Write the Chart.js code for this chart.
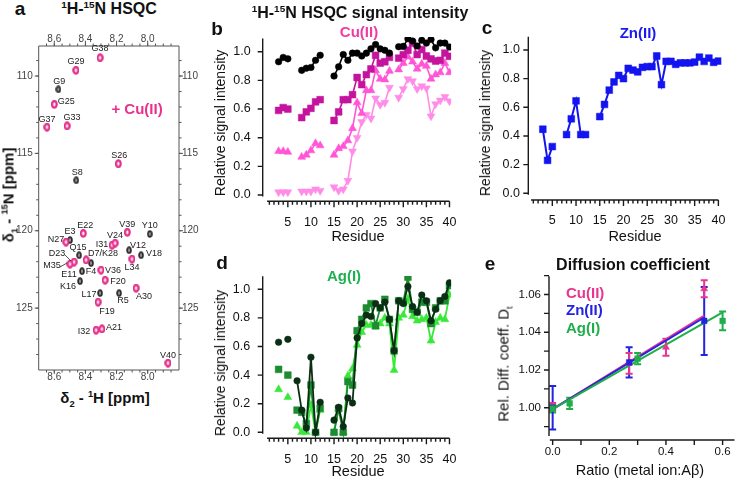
<!DOCTYPE html>
<html><head><meta charset="utf-8">
<script src="https://cdn.jsdelivr.net/npm/chart.js@4.4.1/dist/chart.umd.min.js"></script>
<style>
body{margin:0;background:#fff;}
#wrap{position:relative;width:739px;height:480px;overflow:hidden;background:#fff;font-family:"Liberation Sans",Arial,sans-serif;color:#111;}
canvas{position:absolute;}
.t{position:absolute;white-space:nowrap;line-height:1;transform:translate(-50%,-50%);}
.l{position:absolute;white-space:nowrap;line-height:1;transform:translateY(-50%);}
.v{position:absolute;white-space:nowrap;line-height:1;transform:translate(-50%,-50%) rotate(-90deg);}
.b{font-weight:bold;}
sup,sub{font-size:0.62em;line-height:0;}
</style></head>
<body><div id="wrap">
<canvas id="cA"></canvas><canvas id="cB"></canvas><canvas id="cC"></canvas><canvas id="cD"></canvas><canvas id="cE"></canvas>

<div class="t b" style="left:20px;top:8px;font-size:19px">a</div>
<div class="t b" style="left:109px;top:9px;font-size:16px"><sup>1</sup>H-<sup>15</sup>N HSQC</div>
<div class="t b" style="left:137px;top:108px;font-size:15px;color:#ea2f8e">+ Cu(II)</div>
<div class="v b" style="left:8px;top:195px;font-size:15px">δ<sub>1</sub> - <sup>15</sup>N [ppm]</div>
<div class="t b" style="left:105px;top:397px;font-size:15px">δ<sub>2</sub> - <sup>1</sup>H [ppm]</div>

<div class="t b" style="left:217px;top:28px;font-size:19px">b</div>
<div class="t b" style="left:360px;top:13px;font-size:16px"><sup>1</sup>H-<sup>15</sup>N HSQC signal intensity</div>
<div class="t b" style="left:359px;top:31px;font-size:15px;color:#f03ca2">Cu(II)</div>
<div class="v" style="left:220px;top:123px;font-size:14px">Relative signal intensity</div>
<div class="t" style="left:358px;top:236px;font-size:14.5px">Residue</div>

<div class="t b" style="left:487px;top:27px;font-size:19px">c</div>
<div class="t b" style="left:638px;top:32px;font-size:15px;color:#1a1af0">Zn(II)</div>
<div class="v" style="left:485px;top:123px;font-size:14px">Relative signal intensity</div>
<div class="t" style="left:635px;top:236px;font-size:14.5px">Residue</div>

<div class="t b" style="left:222px;top:262px;font-size:19px">d</div>
<div class="t b" style="left:344px;top:275px;font-size:15px;color:#1fb052">Ag(I)</div>
<div class="v" style="left:220px;top:363px;font-size:14px">Relative signal intensity</div>
<div class="t" style="left:358px;top:471px;font-size:14.5px">Residue</div>

<div class="t b" style="left:490px;top:263px;font-size:19px">e</div>
<div class="t b" style="left:633px;top:265px;font-size:16px">Diffusion coefficient</div>
<div class="l b" style="left:566px;top:292px;font-size:15px;color:#e8358f">Cu(II)</div>
<div class="l b" style="left:566px;top:309px;font-size:15px;color:#2323e0">Zn(II)</div>
<div class="l b" style="left:566px;top:327px;font-size:15px;color:#1fae4a">Ag(I)</div>
<div class="v" style="left:503px;top:364px;font-size:15px">Rel. Diff. coeff. D<sub>t</sub></div>
<div class="t" style="left:640px;top:470px;font-size:14.5px">Ratio (metal ion:Aβ)</div>
</div>
<script>
// ---------------- DATA ----------------
// Panel a: HSQC peaks (ppm)
const peakNames = ['G38','G29','G9','G25','G37','G33','S26','S8','E22','V39','Y10','E3','N27','Q15','D23','M35','D7/K28','F4','E11','K16','V36','F20','I31','V24','V12','V18','L34','L17','R5','A30','F19','I32','A21','V40'];
const apoH = [8.306,8.461,8.574,8.600,8.647,8.518,8.189,8.459,8.414,8.131,7.987,8.499,8.525,8.441,8.473,8.499,8.396,8.364,8.422,8.435,8.300,8.274,8.229,8.210,8.120,8.043,8.101,8.306,8.184,8.075,8.319,8.332,8.294,7.870];
const apoN = [108.82,109.63,110.86,111.83,113.30,113.23,115.67,116.74,120.17,120.10,120.21,120.60,120.73,121.58,122.02,122.15,121.89,122.09,122.61,123.26,122.54,123.19,120.93,120.80,121.26,121.58,121.83,124.03,124.03,123.71,124.61,126.42,126.35,128.55];
const cuNames = ['G38','G29','G25','G37','G33','S26','E22','V39','N27','D23','M35','D7/K28','V36','F20','I31','V24','L34','A30','F19','I32','A21','V40'];
const cuH = [8.306,8.461,8.600,8.647,8.518,8.189,8.414,8.131,8.525,8.473,8.499,8.396,8.300,8.274,8.229,8.210,8.101,8.075,8.319,8.332,8.294,7.870];
const cuN = [108.82,109.63,111.83,113.30,113.23,115.67,120.17,120.10,120.73,122.02,122.15,121.89,122.54,123.19,120.93,120.80,121.83,123.71,124.61,126.42,126.35,128.55];
const hsqcTicksH = [8.6,8.4,8.2,8.0];
const hsqcTicksN = [110,115,120,125];

// Panels b-d: residues and relative intensities
const residues = [3,4,5,6,7,8,9,10,11,12,13,14,15,16,17,18,19,20,21,22,23,24,25,26,27,28,29,30,31,32,33,34,35,36,37,38,39,40];
const cuSeries1 = [0.93,0.96,0.95,null,null,0.87,0.885,0.89,0.94,0.975,null,null,0.83,0.895,0.98,0.94,0.99,0.99,0.97,0.99,1.02,1.05,1.02,1.01,0.99,null,1.035,1.037,1.09,1.075,1.04,1.08,1.06,1.085,1.027,1.06,1.06,1.033];
const cuSeries2 = [0.59,0.61,0.60,null,null,0.54,0.58,0.605,0.65,0.665,null,null,0.52,0.58,0.665,0.665,0.70,0.82,0.77,0.84,0.88,0.975,0.92,0.93,0.96,null,0.955,0.98,1.01,1.06,0.98,1.015,0.97,0.95,0.935,0.94,0.99,0.968];
const cuSeries3 = [0.305,0.305,0.30,null,null,0.265,0.28,0.31,0.36,0.345,null,null,0.28,0.325,0.34,0.38,0.465,0.645,0.57,0.73,0.73,0.87,0.81,0.805,0.865,null,0.875,0.92,0.965,0.93,0.88,0.915,0.90,0.81,0.84,0.855,0.92,0.855];
const cuSeries4 = [0.02,0.02,0.02,null,null,0.025,0.025,0.025,0.04,0.03,null,null,0.055,0.03,0.04,0.10,0.305,0.40,0.51,0.56,0.535,0.675,0.63,0.645,0.75,null,0.68,0.74,0.81,0.795,0.74,0.76,0.745,0.55,0.635,0.66,0.685,0.655];
const znSeries = [0.447,0.23,0.326,null,null,0.41,0.52,0.645,0.41,0.41,null,null,0.535,0.62,0.72,0.777,0.823,0.80,0.872,0.86,0.847,0.879,0.884,0.884,0.958,0.758,0.921,0.921,0.90,0.91,0.91,0.91,0.916,0.95,0.92,0.944,0.914,0.923];
const agSeries1 = [0.63,null,0.65,null,0.36,0.155,0.03,0.525,0.0,0.21,null,null,0.085,0.175,0.04,0.24,0.205,0.66,0.76,0.82,0.81,0.90,0.87,0.91,0.79,0.57,0.92,0.90,1.02,0.88,0.84,0.96,0.92,0.78,0.86,0.92,0.95,1.045];
const agSeries2 = [0.44,null,0.40,null,0.155,0.14,0.06,0.33,0.0,0.17,null,null,0.0,0.165,0.0,0.355,0.33,0.71,0.79,0.87,0.90,0.745,0.87,0.93,0.79,0.57,0.92,0.91,1.085,0.86,0.84,0.91,0.91,0.76,0.87,0.92,0.92,1.025];
const agSeries3 = [0.30,null,0.245,null,0.045,0.0,0.0,0.19,0.0,0.155,null,null,0.0,0.165,0.0,0.395,0.445,0.61,0.70,0.75,0.75,0.74,0.76,0.80,0.76,0.435,0.80,0.82,0.935,0.81,0.78,0.79,0.80,0.64,0.77,0.80,0.79,0.96];
const residueTicks = [5,10,15,20,25,30,35,40];
const intensityTicks = [0,0.2,0.4,0.6,0.8,1.0];

// Panel e: diffusion coefficients
const cuRatio = [0,0.27,0.40,0.535];
const cuDiff  = [1.0005,1.0235,1.032,1.063];
const cuErr   = [0.002,0.0055,0.0045,0.0045];
const znRatio = [0,0.27,0.535];
const znDiff  = [1.000,1.024,1.046];
const znErr   = [0.0115,0.008,0.018];
const agRatio = [0,0.06,0.30,0.60];
const agDiff  = [0.9995,1.0023,1.026,1.046];
const agErr   = [0.002,0.003,0.003,0.005];
const cuFitX = [0,0.535], cuFitY = [0.9992,1.0488];
const znFitX = [0,0.535], znFitY = [0.9992,1.0478];
const agFitX = [0,0.60],  agFitY = [0.9992,1.0505];
const ratioTicks = [0,0.2,0.4,0.6];
const diffTicks = [1.00,1.02,1.04,1.06];

// ---------------- HELPERS ----------------
Chart.defaults.font.family = '"Liberation Sans", Arial, sans-serif';
Chart.defaults.color = '#111';
const pts = (xs, ys) => xs.map((x, i) => ({x: x, y: ys[i]}));
function range(a, b, step) { const out = []; for (let v = a; v <= b + 1e-9; v += step) out.push(+v.toFixed(4)); return out; }

function axis(o) {
  return {
    type: 'linear', position: o.position, min: o.min, max: o.max, reverse: !!o.reverse,
    grid: {display: false, drawTicks: false}, border: {display: false},
    ticks: {autoSkip: false, maxRotation: 0, minRotation: 0, padding: o.pad,
      font: {size: o.fontSize || 12.5}, color: o.color || '#111', callback: o.fmt},
    afterBuildTicks: s => { s.ticks = o.ticks.map(v => ({value: v})); },
    afterFit: s => { if (s.isHorizontal()) s.height = o.size; else s.width = o.size; }
  };
}

const igorAxes = {
  id: 'igorAxes',
  afterDatasetsDraw(chart, args, opts) {
    const ctx = chart.ctx, ca = chart.chartArea;
    ctx.save();
    (opts.axes || []).forEach(ax => {
      const s = chart.scales[ax.scale];
      ctx.strokeStyle = ax.color || '#1a1a1a';
      ctx.lineWidth = ax.width || 1.4;
      ctx.beginPath();
      const horiz = ax.side === 'top' || ax.side === 'bottom';
      const dir = (ax.side === 'bottom' || ax.side === 'right') ? 1 : -1;
      const pos = ca[ax.side];
      const p0 = ax.from === undefined ? (horiz ? ca.left : ca.top) : s.getPixelForValue(ax.from);
      const p1 = ax.to === undefined ? (horiz ? ca.right : ca.bottom) : s.getPixelForValue(ax.to);
      if (horiz) { ctx.moveTo(p0, pos); ctx.lineTo(p1, pos); } else { ctx.moveTo(pos, p0); ctx.lineTo(pos, p1); }
      const tick = (v, len) => { const p = s.getPixelForValue(v);
        if (horiz) { ctx.moveTo(p, pos); ctx.lineTo(p, pos + dir * len); }
        else { ctx.moveTo(pos, p); ctx.lineTo(pos + dir * len, p); } };
      (ax.minor || []).forEach(v => tick(v, ax.minLen));
      (ax.major || []).forEach(v => tick(v, ax.majLen));
      ctx.stroke();
    });
    ctx.restore();
  }
};

const peakLabels = {
  id: 'peakLabels',
  afterDatasetsDraw(chart, args, opts) {
    if (!opts.names) return;
    const ctx = chart.ctx, xs = chart.scales.x, ys = chart.scales.y;
    ctx.save();
    ctx.font = '9px "Liberation Sans", Arial, sans-serif';
    ctx.fillStyle = '#222'; ctx.strokeStyle = '#222'; ctx.lineWidth = 0.8;
    ctx.textAlign = 'center'; ctx.textBaseline = 'middle';
    opts.names.forEach((n, i) => {
      const px = xs.getPixelForValue(opts.h[i]), py = ys.getPixelForValue(opts.n[i]);
      const off = opts.offsets[n] || [0, -8];
      ctx.fillText(n, px + off[0], py + off[1]);
      if (off[2]) { ctx.beginPath(); ctx.moveTo(px + off[0] + 8, py + off[1] + 1); ctx.lineTo(px - 3, py - 1); ctx.stroke(); }
    });
    ctx.restore();
  }
};

const errBars = {
  id: 'errBars',
  beforeDatasetsDraw(chart) {
    const ctx = chart.ctx, ys = chart.scales.y;
    chart.data.datasets.forEach((ds, di) => {
      if (!ds.errorBars) return;
      const meta = chart.getDatasetMeta(di);
      ctx.save(); ctx.strokeStyle = ds.borderColor; ctx.lineWidth = 2;
      meta.data.forEach((pt, i) => {
        const v = ds.data[i].y, e = ds.errorBars[i];
        const y0 = ys.getPixelForValue(v - e), y1 = ys.getPixelForValue(v + e);
        ctx.beginPath();
        ctx.moveTo(pt.x, y0); ctx.lineTo(pt.x, y1);
        ctx.moveTo(pt.x - 3.5, y0); ctx.lineTo(pt.x + 3.5, y0);
        ctx.moveTo(pt.x - 3.5, y1); ctx.lineTo(pt.x + 3.5, y1);
        ctx.stroke();
      });
      ctx.restore();
    });
  }
};

function ring(w, h, stroke, fill, lw) {
  const c = document.createElement('canvas'); c.width = w; c.height = h;
  const g = c.getContext('2d');
  g.beginPath(); g.ellipse(w / 2, h / 2, w / 2 - lw / 2 - 0.2, h / 2 - lw / 2 - 0.2, 0, 0, Math.PI * 2);
  g.fillStyle = fill; g.fill(); g.lineWidth = lw; g.strokeStyle = stroke; g.stroke();
  return c;
}

function place(id, box) {
  const c = document.getElementById(id);
  c.width = box.w; c.height = box.h;
  c.style.left = box.x + 'px'; c.style.top = box.y + 'px';
  c.style.width = box.w + 'px'; c.style.height = box.h + 'px';
  return c;
}
const base = {responsive: false, animation: false, devicePixelRatio: 1, events: []};
const noPlug = {legend: {display: false}, tooltip: {enabled: false}};
const f1 = v => v.toFixed(1), f2 = v => v.toFixed(2), f0 = v => String(v);

// ---------------- PANEL A ----------------
(function () {
  const box = {x: 0, y: 28, w: 205, h: 360};
  const area = {l: 38.7, t: 46, r: 179, b: 370};
  const c = place('cA', box);
  const offsets = {
    'G38': [0, -9], 'G29': [0, -9], 'G9': [1, -8], 'G25': [12, -3], 'G37': [0, -8], 'G33': [5, -8],
    'S26': [1, -8], 'S8': [1, -8], 'E22': [2, -8], 'V39': [0, -8], 'Y10': [0, -8], 'E3': [0, -9],
    'N27': [-10, -3], 'Q15': [-1, -8], 'D23': [-17, -8, 1], 'M35': [-18, 2, 1], 'D7/K28': [17, -6],
    'F4': [0, 8], 'E11': [-13, 3], 'K16': [-12, 5], 'V36': [12, 0], 'F20': [13, 1], 'I31': [-10, -1],
    'V24': [0, -8], 'V12': [9, -5], 'V18': [13, -2], 'L34': [0, 8], 'L17': [-11, 1], 'R5': [4, 7],
    'A30': [8, 8], 'F19': [9, 9], 'I32': [-12, 1], 'A21': [12, -1], 'V40': [0, -8]
  };
  const blackRing = ring(6, 8, '#2b2b2b', '#9a9a9a', 1.8);
  const pinkRing = ring(7, 9, '#ee2f8f', '#ffffff', 2.2);
  new Chart(c, {
    type: 'scatter',
    data: {datasets: [
      {data: pts(apoH, apoN), pointStyle: blackRing, pointRadius: 4, order: 1},
      {data: pts(cuH, cuN), pointStyle: pinkRing, pointRadius: 4, order: 0}
    ]},
    options: Object.assign({}, base, {
      layout: {padding: 0},
      scales: {
        x: axis({position: 'bottom', min: 7.799, max: 8.700, reverse: true, ticks: hsqcTicksH, fmt: f1, pad: 1, size: box.y + box.h - area.b, fontSize: 10, color: '#444'}),
        x2: axis({position: 'top', min: 7.799, max: 8.700, reverse: true, ticks: hsqcTicksH, fmt: f1, pad: 1, size: area.t - box.y, fontSize: 10, color: '#444'}),
        y: axis({position: 'left', min: 108.06, max: 129.0, reverse: true, ticks: hsqcTicksN, fmt: f0, pad: 6, size: area.l - box.x, fontSize: 10, color: '#444'}),
        y2: axis({position: 'right', min: 108.06, max: 129.0, reverse: true, ticks: hsqcTicksN, fmt: f0, pad: 3, size: box.x + box.w - area.r, fontSize: 10, color: '#444'})
      },
      plugins: Object.assign({}, noPlug, {
        igorAxes: {axes: [
          {scale: 'x', side: 'bottom', major: hsqcTicksH, minor: range(7.85, 8.65, 0.05), majLen: 4, minLen: 2.5, color: '#555', width: 1},
          {scale: 'x2', side: 'top', major: hsqcTicksH, minor: range(7.85, 8.65, 0.05), majLen: 4, minLen: 2.5, color: '#555', width: 1},
          {scale: 'y', side: 'left', major: hsqcTicksN, minor: range(109, 128, 1), majLen: 4, minLen: 2.5, color: '#555', width: 1},
          {scale: 'y2', side: 'right', major: hsqcTicksN, minor: range(109, 128, 1), majLen: 4, minLen: 2.5, color: '#555', width: 1}
        ]},
        peakLabels: {names: peakNames, h: apoH, n: apoN, offsets: offsets}
      })
    }),
    plugins: [igorAxes, peakLabels]
  });
})();

// ---------------- PANELS B, C, D ----------------
function residuePanel(id, box, area, xr, yr, datasets, ypad) {
  const c = place(id, box);
  new Chart(c, {
    type: 'line',
    data: {datasets: datasets},
    options: Object.assign({}, base, {
      layout: {padding: {left: 0, top: area.t - box.y, right: box.x + box.w - area.r, bottom: 0}},
      scales: {
        x: axis({position: 'bottom', min: xr[0], max: xr[1], ticks: residueTicks, fmt: f0, pad: 13.5, size: box.y + box.h - area.b}),
        y: axis({position: 'left', min: yr[0], max: yr[1], ticks: intensityTicks, fmt: f1, pad: ypad, size: area.l - box.x})
      },
      plugins: Object.assign({}, noPlug, {
        igorAxes: {axes: [
          {scale: 'x', side: 'bottom', from: 0.5, to: 40, major: residueTicks, minor: range(1, 40, 1), majLen: 6, minLen: 3.5},
          {scale: 'y', side: 'left', from: -0.01, to: 1.092, major: intensityTicks, minor: [], majLen: 5, minLen: 3}
        ]}
      })
    }),
    plugins: [igorAxes]
  });
}
function series(vals, color, style, radius, rot, lw) {
  return {data: pts(residues, vals), borderColor: color, backgroundColor: color, pointBackgroundColor: color,
    pointBorderColor: color, pointStyle: style, pointRadius: radius, pointRotation: rot || 0,
    pointBorderWidth: 0.5, borderWidth: lw || 1.6, tension: 0, spanGaps: false};
}

residuePanel('cB', {x: 190, y: 0, w: 280, h: 250}, {l: 262.7, t: 37, r: 462, b: 201.3},
  [-0.444, 40.346], [-0.044, 1.1026], [
    series(cuSeries1, '#000000', 'circle', 3.3),
    series(cuSeries2, '#c4149e', 'rect', 4.8),
    series(cuSeries3, '#ff55d6', 'triangle', 4.6),
    series(cuSeries4, '#ff8ce6', 'triangle', 4.6, 180)
  ], 12);

residuePanel('cC', {x: 470, y: 0, w: 269, h: 250}, {l: 528.3, t: 36, r: 728, b: 200},
  [-0.061, 40.61], [-0.0468, 1.0977], [
    series(znSeries, '#1414f0', 'rect', 4.8, 0, 2)
  ], 8.3);

residuePanel('cD', {x: 190, y: 250, w: 280, h: 230}, {l: 262.7, t: 276, r: 462, b: 438.3},
  [-0.444, 40.346], [-0.042, 1.093], [
    series(agSeries1, '#0b2f15', 'circle', 3.3, 0, 1.8),
    series(agSeries2, '#1d8c30', 'rect', 4.8, 0, 1.8),
    series(agSeries3, '#3ae83a', 'triangle', 4.6, 0, 1.8)
  ], 12.5);

// ---------------- PANEL E ----------------
(function () {
  const box = {x: 470, y: 250, w: 269, h: 230};
  const area = {l: 549, t: 276, r: 737, b: 440};
  const c = place('cE', box);
  const CU = '#e8358f', ZN = '#2323e0', AG = '#1fae4a';
  const fit = (xs, ys, col) => ({data: pts(xs, ys), showLine: true, borderColor: col, borderWidth: 2, pointRadius: 0, order: 5});
  const mk = (xs, ys, er, col, st) => ({data: pts(xs, ys), errorBars: er, borderColor: col, backgroundColor: col,
    pointStyle: st, pointRadius: 4, pointBorderWidth: 0.5, showLine: false, order: 1});
  new Chart(c, {
    type: 'scatter',
    data: {datasets: [
      fit(agFitX, agFitY, AG), fit(znFitX, znFitY, ZN), fit(cuFitX, cuFitY, CU),
      mk(agRatio, agDiff, agErr, AG, 'rect'), mk(znRatio, znDiff, znErr, ZN, 'rect'), mk(cuRatio, cuDiff, cuErr, CU, 'triangle')
    ]},
    options: Object.assign({}, base, {
      layout: {padding: {left: 0, top: area.t - box.y, right: box.x + box.w - area.r, bottom: 0}},
      scales: {
        x: axis({position: 'bottom', min: -0.0129, max: 0.642, ticks: ratioTicks, fmt: f1, pad: 5, size: box.y + box.h - area.b, fontSize: 11.5}),
        y: axis({position: 'left', min: 0.98289, max: 1.0698, ticks: diffTicks, fmt: f2, pad: 8, size: area.l - box.x, fontSize: 11.5})
      },
      plugins: Object.assign({}, noPlug, {
        igorAxes: {axes: [
          {scale: 'x', side: 'bottom', from: -0.01, major: ratioTicks, minor: [0.1, 0.3, 0.5], majLen: 5, minLen: 5},
          {scale: 'y', side: 'left', from: 0.985, to: 1.0697, major: diffTicks, minor: [0.99, 1.01, 1.03, 1.05, 1.07], majLen: 5, minLen: 5}
        ]}
      })
    }),
    plugins: [igorAxes, errBars]
  });
})();
</script>
</body></html>
